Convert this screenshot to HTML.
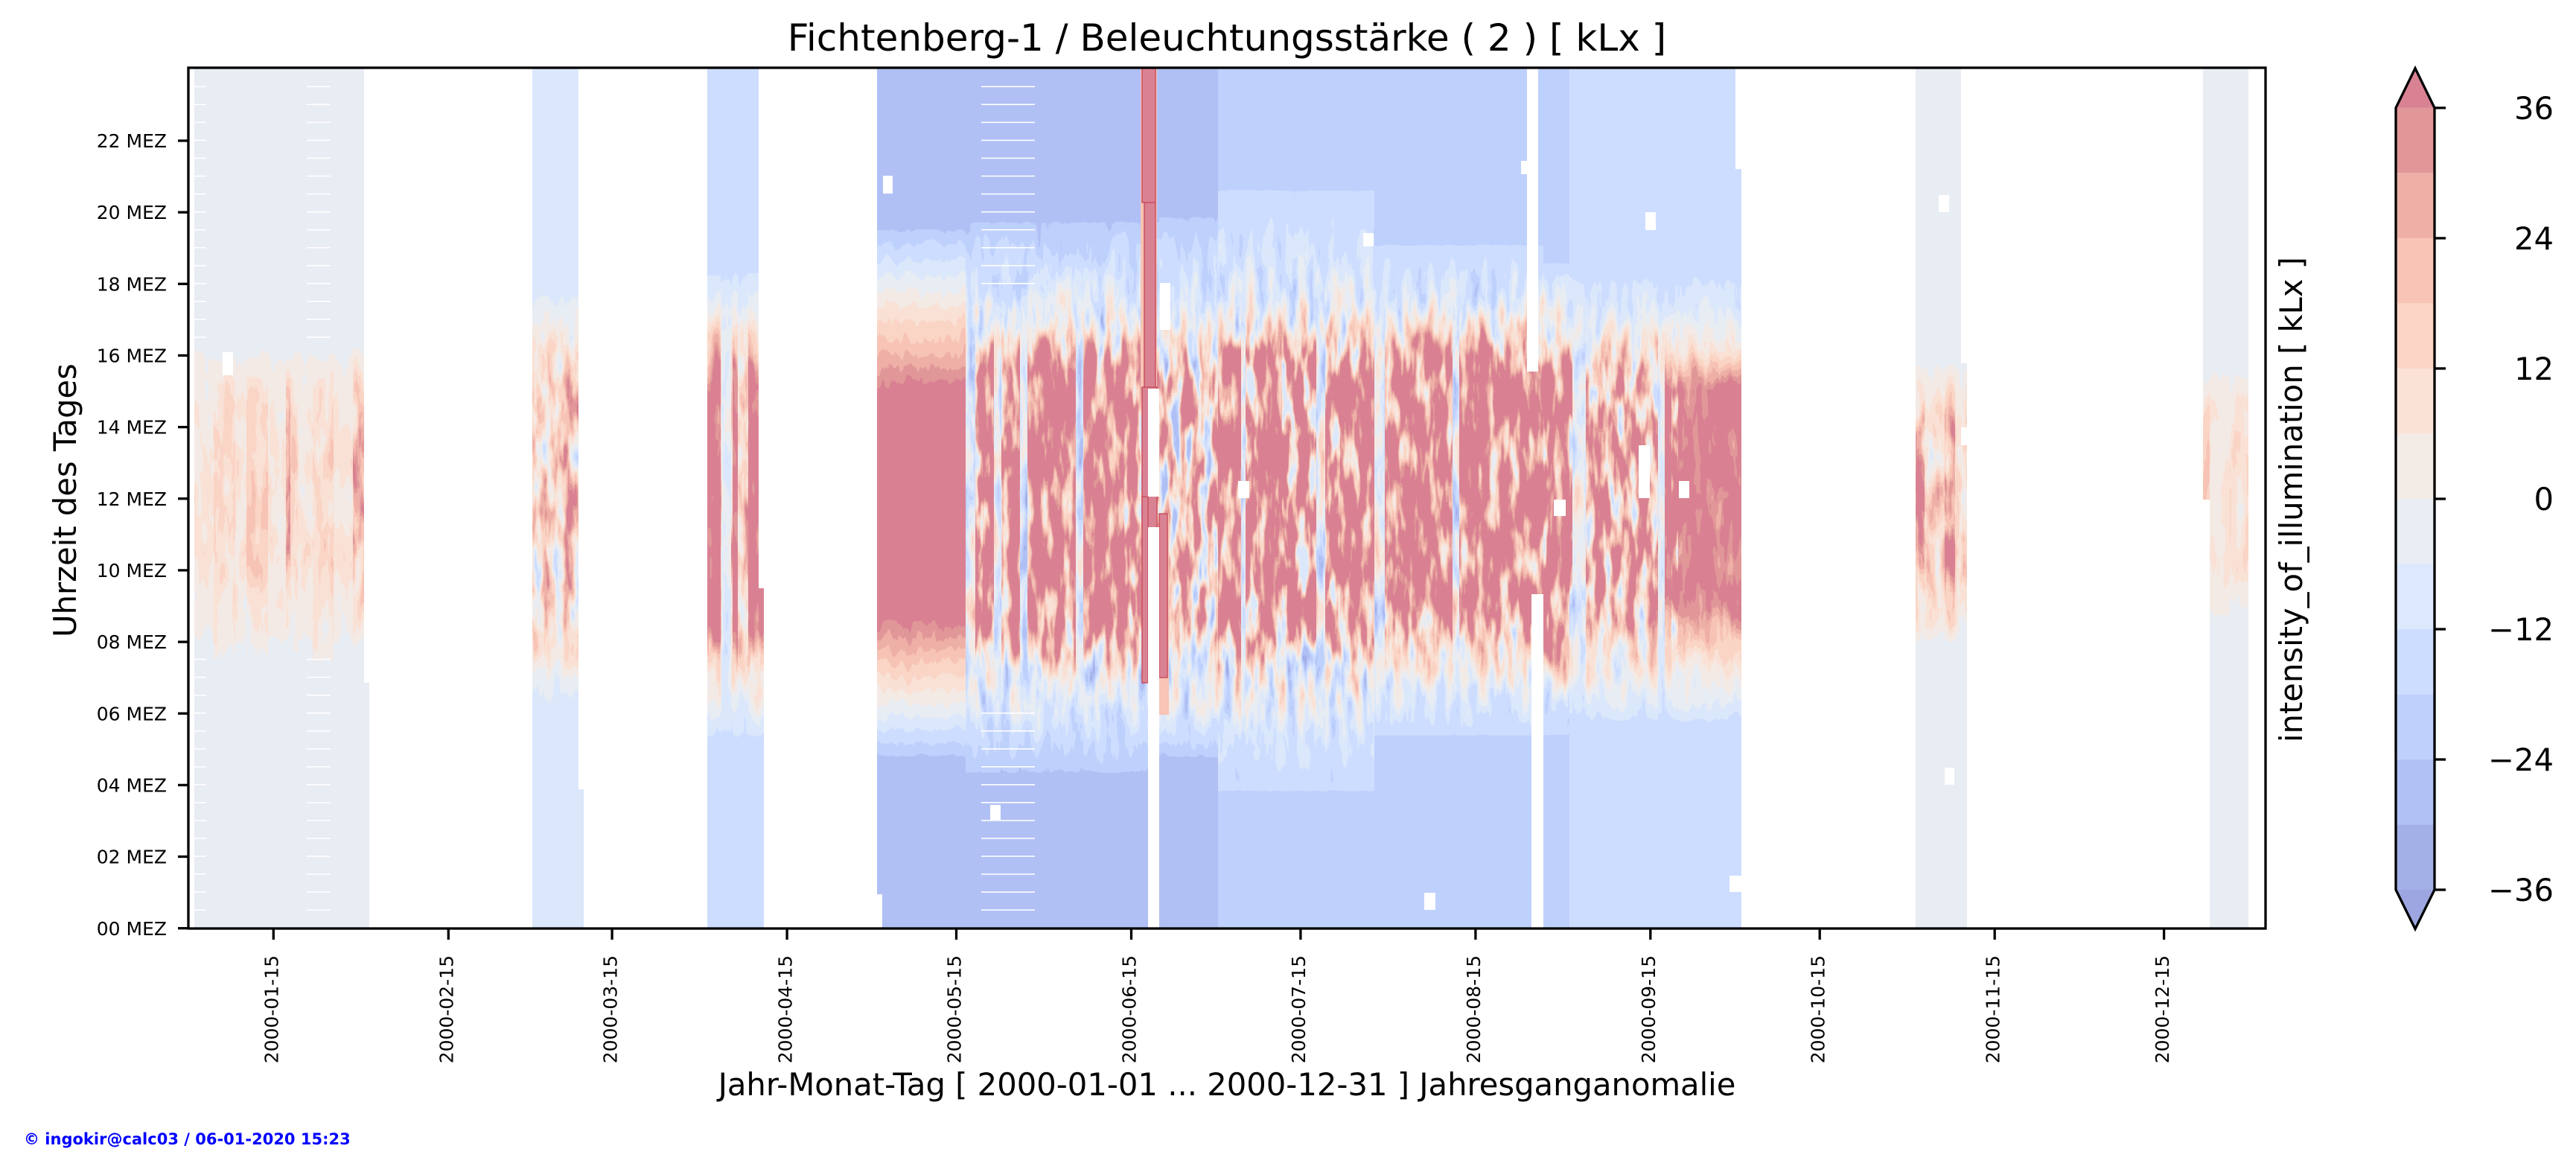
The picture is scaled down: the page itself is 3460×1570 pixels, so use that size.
<!DOCTYPE html>
<html><head><meta charset="utf-8"><style>
html,body{margin:0;padding:0;background:#fff}
svg{display:block}
text{font-family:"DejaVu Sans","Liberation Sans",sans-serif;fill:#000}
.b1{fill:#a3afe7}.b2{fill:#b1c1f5}.b3{fill:#bfd0fc}.b4{fill:#cdddff}.b5{fill:#dce8fc}.b6{fill:#e9edf4}.b7{fill:#f3ebe6}.b8{fill:#fae2d6}.b9{fill:#fbd4c5}.b10{fill:#f7c4b5}.b11{fill:#eeb0a6}.b12{fill:#e19798}.o{fill:#d98293;stroke:#c9505f;stroke-width:1.5}.w{fill:#fff}
</style></head><body>
<svg width="3460" height="1570" viewBox="0 0 3460 1570" xmlns="http://www.w3.org/2000/svg">
<defs>
<clipPath id="ax"><rect x="253" y="91" width="2790" height="1156"/></clipPath>
<pattern id="dash" x="0" y="115.5" width="20" height="24.04" patternUnits="userSpaceOnUse"><rect x="0" y="0" width="20" height="1.6" fill="#fff"/></pattern>
<filter id="hm" filterUnits="userSpaceOnUse" x="253" y="91" width="2790" height="1156" color-interpolation-filters="sRGB">
<feTurbulence type="fractalNoise" baseFrequency="0.07 0.014" numOctaves="3" seed="3" result="t"/>
<feColorMatrix in="t" type="matrix" values="1 0 0 0 0  1 0 0 0 0  1 0 0 0 0  0 0 0 0 1" result="n"/>
<feColorMatrix in="SourceGraphic" type="matrix" values="0 1 0 0 0  0 1 0 0 0  0 1 0 0 0  0 0 0 1 0" result="amp"/>
<feColorMatrix in="SourceGraphic" type="matrix" values="1 0 0 0 0  1 0 0 0 0  1 0 0 0 0  0 0 0 1 0" result="env"/>
<feComposite in="amp" in2="n" operator="arithmetic" k1="2.4" k2="-1.2" k3="0" k4="0.5" result="dev"/>
<feComposite in="env" in2="dev" operator="arithmetic" k1="0" k2="1" k3="1" k4="-0.5" result="val"/>
<feComponentTransfer in="val">
<feFuncR type="discrete" tableValues="0.616 0.639 0.692 0.748 0.805 0.861 0.912 0.954 0.980 0.984 0.969 0.935 0.884 0.853"/>
<feFuncG type="discrete" tableValues="0.649 0.686 0.755 0.816 0.869 0.908 0.928 0.920 0.884 0.833 0.767 0.688 0.593 0.508"/>
<feFuncB type="discrete" tableValues="0.876 0.907 0.959 0.990 1.0 0.988 0.956 0.902 0.839 0.773 0.710 0.651 0.598 0.575"/>
</feComponentTransfer>
</filter>
<linearGradient id="gJan" gradientUnits="userSpaceOnUse" x1="0" y1="0" x2="0" y2="2000"><stop offset=".225" stop-color="rgb(118,0,0)"/><stop offset=".25" stop-color="rgb(133,13,0)"/><stop offset=".3" stop-color="rgb(146,31,0)"/><stop offset=".37" stop-color="rgb(146,31,0)"/><stop offset=".42" stop-color="rgb(133,13,0)"/><stop offset=".44" stop-color="rgb(118,0,0)"/></linearGradient>
<linearGradient id="gJanCol" gradientUnits="userSpaceOnUse" x1="0" y1="0" x2="0" y2="2000"><stop offset=".23" stop-color="rgb(118,0,0)"/><stop offset=".26" stop-color="rgb(146,26,0)"/><stop offset=".3" stop-color="rgb(164,38,0)"/><stop offset=".38" stop-color="rgb(164,38,0)"/><stop offset=".43" stop-color="rgb(137,26,0)"/><stop offset=".45" stop-color="rgb(118,0,0)"/></linearGradient>
<linearGradient id="gJanCol2" gradientUnits="userSpaceOnUse" x1="0" y1="0" x2="0" y2="2000"><stop offset=".23" stop-color="rgb(118,0,0)"/><stop offset=".26" stop-color="rgb(150,26,0)"/><stop offset=".3" stop-color="rgb(177,38,0)"/><stop offset=".38" stop-color="rgb(177,38,0)"/><stop offset=".43" stop-color="rgb(137,26,0)"/><stop offset=".45" stop-color="rgb(118,0,0)"/></linearGradient>
<linearGradient id="gJanRed" gradientUnits="userSpaceOnUse" x1="0" y1="0" x2="0" y2="2000"><stop offset=".23" stop-color="rgb(118,0,0)"/><stop offset=".26" stop-color="rgb(164,51,0)"/><stop offset=".28" stop-color="rgb(200,89,0)"/><stop offset=".37" stop-color="rgb(200,89,0)"/><stop offset=".41" stop-color="rgb(146,51,0)"/><stop offset=".44" stop-color="rgb(118,0,0)"/></linearGradient>
<linearGradient id="gMar" gradientUnits="userSpaceOnUse" x1="0" y1="0" x2="0" y2="2000"><stop offset=".1925" stop-color="rgb(100,0,0)"/><stop offset=".215" stop-color="rgb(124,26,0)"/><stop offset=".245" stop-color="rgb(155,77,0)"/><stop offset=".26" stop-color="rgb(173,128,0)"/><stop offset=".41" stop-color="rgb(173,128,0)"/><stop offset=".44" stop-color="rgb(137,51,0)"/><stop offset=".46" stop-color="rgb(113,13,0)"/><stop offset=".48" stop-color="rgb(100,0,0)"/></linearGradient>
<linearGradient id="gApr" gradientUnits="userSpaceOnUse" x1="0" y1="0" x2="0" y2="2000"><stop offset=".1775" stop-color="rgb(82,0,0)"/><stop offset=".2" stop-color="rgb(106,26,0)"/><stop offset=".235" stop-color="rgb(146,64,0)"/><stop offset=".26" stop-color="rgb(169,102,0)"/><stop offset=".415" stop-color="rgb(169,102,0)"/><stop offset=".45" stop-color="rgb(142,51,0)"/><stop offset=".48" stop-color="rgb(106,26,0)"/><stop offset=".5" stop-color="rgb(82,0,0)"/></linearGradient>
<linearGradient id="gAprRed" gradientUnits="userSpaceOnUse" x1="0" y1="0" x2="0" y2="2000"><stop offset=".1775" stop-color="rgb(82,0,0)"/><stop offset=".21" stop-color="rgb(128,26,0)"/><stop offset=".245" stop-color="rgb(219,77,0)"/><stop offset=".26" stop-color="rgb(255,64,0)"/><stop offset=".42" stop-color="rgb(255,64,0)"/><stop offset=".44" stop-color="rgb(182,77,0)"/><stop offset=".48" stop-color="rgb(109,26,0)"/><stop offset=".5" stop-color="rgb(82,0,0)"/></linearGradient>
<linearGradient id="gAprLight" gradientUnits="userSpaceOnUse" x1="0" y1="0" x2="0" y2="2000"><stop offset=".1775" stop-color="rgb(82,0,0)"/><stop offset=".21" stop-color="rgb(109,13,0)"/><stop offset=".26" stop-color="rgb(115,38,0)"/><stop offset=".44" stop-color="rgb(115,38,0)"/><stop offset=".48" stop-color="rgb(100,0,0)"/><stop offset=".5" stop-color="rgb(82,0,0)"/></linearGradient>
<linearGradient id="gMayL" gradientUnits="userSpaceOnUse" x1="0" y1="0" x2="0" y2="2000"><stop offset=".1525" stop-color="rgb(46,0,0)"/><stop offset=".155" stop-color="rgb(56,8,0)"/><stop offset=".2595" stop-color="rgb(240,20,0)"/><stop offset=".2625" stop-color="rgb(255,20,0)"/><stop offset=".415" stop-color="rgb(255,20,0)"/><stop offset=".418" stop-color="rgb(240,20,0)"/><stop offset=".507" stop-color="rgb(56,8,0)"/><stop offset=".5095" stop-color="rgb(46,0,0)"/></linearGradient>
<linearGradient id="gMayM" gradientUnits="userSpaceOnUse" x1="0" y1="0" x2="0" y2="2000"><stop offset=".1475" stop-color="rgb(46,0,0)"/><stop offset=".15" stop-color="rgb(56,8,0)"/><stop offset=".19" stop-color="rgb(95,51,0)"/><stop offset=".22" stop-color="rgb(124,128,0)"/><stop offset=".24" stop-color="rgb(191,204,0)"/><stop offset=".25" stop-color="rgb(222,255,0)"/><stop offset=".415" stop-color="rgb(222,255,0)"/><stop offset=".43" stop-color="rgb(191,204,0)"/><stop offset=".45" stop-color="rgb(128,128,0)"/><stop offset=".48" stop-color="rgb(95,51,0)"/><stop offset=".5175" stop-color="rgb(56,8,0)"/><stop offset=".521" stop-color="rgb(46,0,0)"/></linearGradient>
<linearGradient id="gMayRed" gradientUnits="userSpaceOnUse" x1="0" y1="0" x2="0" y2="2000"><stop offset=".1475" stop-color="rgb(46,0,0)"/><stop offset=".15" stop-color="rgb(56,8,0)"/><stop offset=".19" stop-color="rgb(95,51,0)"/><stop offset=".22" stop-color="rgb(124,128,0)"/><stop offset=".24" stop-color="rgb(219,179,0)"/><stop offset=".25" stop-color="rgb(246,179,0)"/><stop offset=".415" stop-color="rgb(246,179,0)"/><stop offset=".43" stop-color="rgb(200,179,0)"/><stop offset=".45" stop-color="rgb(128,128,0)"/><stop offset=".48" stop-color="rgb(95,51,0)"/><stop offset=".5175" stop-color="rgb(56,8,0)"/><stop offset=".521" stop-color="rgb(46,0,0)"/></linearGradient>
<linearGradient id="gMayLight" gradientUnits="userSpaceOnUse" x1="0" y1="0" x2="0" y2="2000"><stop offset=".1475" stop-color="rgb(46,0,0)"/><stop offset=".15" stop-color="rgb(56,8,0)"/><stop offset=".19" stop-color="rgb(91,38,0)"/><stop offset=".225" stop-color="rgb(106,102,0)"/><stop offset=".44" stop-color="rgb(106,102,0)"/><stop offset=".48" stop-color="rgb(91,38,0)"/><stop offset=".5175" stop-color="rgb(56,8,0)"/><stop offset=".521" stop-color="rgb(46,0,0)"/></linearGradient>
<linearGradient id="gMayR" gradientUnits="userSpaceOnUse" x1="0" y1="0" x2="0" y2="2000"><stop offset=".144" stop-color="rgb(46,0,0)"/><stop offset=".147" stop-color="rgb(56,8,0)"/><stop offset=".2" stop-color="rgb(100,51,0)"/><stop offset=".23" stop-color="rgb(124,128,0)"/><stop offset=".25" stop-color="rgb(164,204,0)"/><stop offset=".26" stop-color="rgb(173,230,0)"/><stop offset=".415" stop-color="rgb(173,230,0)"/><stop offset=".44" stop-color="rgb(137,153,0)"/><stop offset=".47" stop-color="rgb(109,77,0)"/><stop offset=".495" stop-color="rgb(82,26,0)"/><stop offset=".5075" stop-color="rgb(56,8,0)"/><stop offset=".51" stop-color="rgb(46,0,0)"/></linearGradient>
<linearGradient id="gJul" gradientUnits="userSpaceOnUse" x1="0" y1="0" x2="0" y2="2000"><stop offset=".126" stop-color="rgb(64,0,0)"/><stop offset=".129" stop-color="rgb(77,5,0)"/><stop offset=".165" stop-color="rgb(87,26,0)"/><stop offset=".2" stop-color="rgb(106,77,0)"/><stop offset=".225" stop-color="rgb(146,153,0)"/><stop offset=".24" stop-color="rgb(209,255,0)"/><stop offset=".25" stop-color="rgb(222,255,0)"/><stop offset=".415" stop-color="rgb(222,255,0)"/><stop offset=".43" stop-color="rgb(191,230,0)"/><stop offset=".45" stop-color="rgb(137,153,0)"/><stop offset=".475" stop-color="rgb(109,77,0)"/><stop offset=".5" stop-color="rgb(91,26,0)"/><stop offset=".53" stop-color="rgb(77,5,0)"/><stop offset=".533" stop-color="rgb(64,0,0)"/></linearGradient>
<linearGradient id="gJulRed" gradientUnits="userSpaceOnUse" x1="0" y1="0" x2="0" y2="2000"><stop offset=".126" stop-color="rgb(64,0,0)"/><stop offset=".129" stop-color="rgb(77,5,0)"/><stop offset=".165" stop-color="rgb(87,26,0)"/><stop offset=".2" stop-color="rgb(106,77,0)"/><stop offset=".225" stop-color="rgb(164,153,0)"/><stop offset=".24" stop-color="rgb(228,204,0)"/><stop offset=".25" stop-color="rgb(246,179,0)"/><stop offset=".415" stop-color="rgb(246,179,0)"/><stop offset=".43" stop-color="rgb(200,204,0)"/><stop offset=".45" stop-color="rgb(137,153,0)"/><stop offset=".475" stop-color="rgb(109,77,0)"/><stop offset=".5" stop-color="rgb(91,26,0)"/><stop offset=".53" stop-color="rgb(77,5,0)"/><stop offset=".533" stop-color="rgb(64,0,0)"/></linearGradient>
<linearGradient id="gJul2" gradientUnits="userSpaceOnUse" x1="0" y1="0" x2="0" y2="2000"><stop offset=".138" stop-color="rgb(64,0,0)"/><stop offset=".141" stop-color="rgb(77,5,0)"/><stop offset=".1725" stop-color="rgb(87,26,0)"/><stop offset=".205" stop-color="rgb(106,77,0)"/><stop offset=".23" stop-color="rgb(146,153,0)"/><stop offset=".245" stop-color="rgb(209,255,0)"/><stop offset=".2525" stop-color="rgb(222,255,0)"/><stop offset=".415" stop-color="rgb(222,255,0)"/><stop offset=".43" stop-color="rgb(191,230,0)"/><stop offset=".45" stop-color="rgb(137,153,0)"/><stop offset=".475" stop-color="rgb(109,77,0)"/><stop offset=".5" stop-color="rgb(91,26,0)"/><stop offset=".5175" stop-color="rgb(77,5,0)"/><stop offset=".52" stop-color="rgb(64,0,0)"/></linearGradient>
<linearGradient id="gLight" gradientUnits="userSpaceOnUse" x1="0" y1="0" x2="0" y2="2000"><stop offset=".126" stop-color="rgb(64,0,0)"/><stop offset=".129" stop-color="rgb(77,5,0)"/><stop offset=".165" stop-color="rgb(87,26,0)"/><stop offset=".22" stop-color="rgb(106,102,0)"/><stop offset=".43" stop-color="rgb(106,102,0)"/><stop offset=".475" stop-color="rgb(95,51,0)"/><stop offset=".5025" stop-color="rgb(84,13,0)"/><stop offset=".53" stop-color="rgb(77,5,0)"/><stop offset=".533" stop-color="rgb(64,0,0)"/></linearGradient>
<linearGradient id="gAug" gradientUnits="userSpaceOnUse" x1="0" y1="0" x2="0" y2="2000"><stop offset=".1625" stop-color="rgb(64,0,0)"/><stop offset=".166" stop-color="rgb(77,5,0)"/><stop offset=".195" stop-color="rgb(95,51,0)"/><stop offset=".2225" stop-color="rgb(137,128,0)"/><stop offset=".24" stop-color="rgb(200,230,0)"/><stop offset=".25" stop-color="rgb(222,255,0)"/><stop offset=".4" stop-color="rgb(222,255,0)"/><stop offset=".42" stop-color="rgb(182,204,0)"/><stop offset=".44" stop-color="rgb(137,128,0)"/><stop offset=".465" stop-color="rgb(106,64,0)"/><stop offset=".4925" stop-color="rgb(78,5,0)"/><stop offset=".4955" stop-color="rgb(64,0,0)"/></linearGradient>
<linearGradient id="gAugRed" gradientUnits="userSpaceOnUse" x1="0" y1="0" x2="0" y2="2000"><stop offset=".1625" stop-color="rgb(64,0,0)"/><stop offset=".166" stop-color="rgb(77,5,0)"/><stop offset=".195" stop-color="rgb(95,51,0)"/><stop offset=".2225" stop-color="rgb(155,128,0)"/><stop offset=".245" stop-color="rgb(228,204,0)"/><stop offset=".255" stop-color="rgb(246,179,0)"/><stop offset=".4" stop-color="rgb(246,179,0)"/><stop offset=".42" stop-color="rgb(200,204,0)"/><stop offset=".44" stop-color="rgb(137,128,0)"/><stop offset=".465" stop-color="rgb(106,64,0)"/><stop offset=".4925" stop-color="rgb(78,5,0)"/><stop offset=".4955" stop-color="rgb(64,0,0)"/></linearGradient>
<linearGradient id="gAugLight" gradientUnits="userSpaceOnUse" x1="0" y1="0" x2="0" y2="2000"><stop offset=".1625" stop-color="rgb(64,0,0)"/><stop offset=".166" stop-color="rgb(77,5,0)"/><stop offset=".195" stop-color="rgb(95,38,0)"/><stop offset=".225" stop-color="rgb(106,102,0)"/><stop offset=".425" stop-color="rgb(106,102,0)"/><stop offset=".465" stop-color="rgb(97,51,0)"/><stop offset=".4925" stop-color="rgb(78,5,0)"/><stop offset=".4955" stop-color="rgb(64,0,0)"/></linearGradient>
<linearGradient id="gSep1" gradientUnits="userSpaceOnUse" x1="0" y1="0" x2="0" y2="2000"><stop offset=".175" stop-color="rgb(64,0,0)"/><stop offset=".178" stop-color="rgb(77,5,0)"/><stop offset=".2" stop-color="rgb(100,51,0)"/><stop offset=".225" stop-color="rgb(137,128,0)"/><stop offset=".245" stop-color="rgb(200,230,0)"/><stop offset=".255" stop-color="rgb(222,255,0)"/><stop offset=".4" stop-color="rgb(222,255,0)"/><stop offset=".425" stop-color="rgb(173,179,0)"/><stop offset=".45" stop-color="rgb(128,102,0)"/><stop offset=".47" stop-color="rgb(106,51,0)"/><stop offset=".4925" stop-color="rgb(77,5,0)"/><stop offset=".4955" stop-color="rgb(64,0,0)"/></linearGradient>
<linearGradient id="gSep1Red" gradientUnits="userSpaceOnUse" x1="0" y1="0" x2="0" y2="2000"><stop offset=".175" stop-color="rgb(64,0,0)"/><stop offset=".178" stop-color="rgb(77,5,0)"/><stop offset=".2" stop-color="rgb(100,51,0)"/><stop offset=".225" stop-color="rgb(155,128,0)"/><stop offset=".25" stop-color="rgb(246,153,0)"/><stop offset=".425" stop-color="rgb(246,153,0)"/><stop offset=".45" stop-color="rgb(146,128,0)"/><stop offset=".47" stop-color="rgb(106,51,0)"/><stop offset=".4925" stop-color="rgb(77,5,0)"/><stop offset=".4955" stop-color="rgb(64,0,0)"/></linearGradient>
<linearGradient id="gSep" gradientUnits="userSpaceOnUse" x1="0" y1="0" x2="0" y2="2000"><stop offset=".18" stop-color="rgb(82,0,0)"/><stop offset=".2055" stop-color="rgb(100,38,0)"/><stop offset=".235" stop-color="rgb(146,102,0)"/><stop offset=".263" stop-color="rgb(209,204,0)"/><stop offset=".4" stop-color="rgb(209,204,0)"/><stop offset=".425" stop-color="rgb(164,128,0)"/><stop offset=".445" stop-color="rgb(137,77,0)"/><stop offset=".4715" stop-color="rgb(109,26,0)"/><stop offset=".4825" stop-color="rgb(91,8,0)"/><stop offset=".4875" stop-color="rgb(82,0,0)"/></linearGradient>
<linearGradient id="gSepRed" gradientUnits="userSpaceOnUse" x1="0" y1="0" x2="0" y2="2000"><stop offset=".18" stop-color="rgb(82,0,0)"/><stop offset=".2055" stop-color="rgb(100,26,0)"/><stop offset=".235" stop-color="rgb(155,38,0)"/><stop offset=".263" stop-color="rgb(246,51,0)"/><stop offset=".395" stop-color="rgb(246,51,0)"/><stop offset=".425" stop-color="rgb(191,51,0)"/><stop offset=".45" stop-color="rgb(146,38,0)"/><stop offset=".4715" stop-color="rgb(109,26,0)"/><stop offset=".4825" stop-color="rgb(91,8,0)"/><stop offset=".4875" stop-color="rgb(82,0,0)"/></linearGradient>
<linearGradient id="gSepLight" gradientUnits="userSpaceOnUse" x1="0" y1="0" x2="0" y2="2000"><stop offset=".18" stop-color="rgb(82,0,0)"/><stop offset=".2055" stop-color="rgb(100,26,0)"/><stop offset=".235" stop-color="rgb(109,77,0)"/><stop offset=".425" stop-color="rgb(109,77,0)"/><stop offset=".4715" stop-color="rgb(100,26,0)"/><stop offset=".4875" stop-color="rgb(82,0,0)"/></linearGradient>
<linearGradient id="gNov" gradientUnits="userSpaceOnUse" x1="0" y1="0" x2="0" y2="2000"><stop offset=".24" stop-color="rgb(118,0,0)"/><stop offset=".25" stop-color="rgb(131,13,0)"/><stop offset=".28" stop-color="rgb(151,51,0)"/><stop offset=".3" stop-color="rgb(168,77,0)"/><stop offset=".38" stop-color="rgb(168,77,0)"/><stop offset=".415" stop-color="rgb(142,38,0)"/><stop offset=".435" stop-color="rgb(118,0,0)"/></linearGradient>
<linearGradient id="gNovRed" gradientUnits="userSpaceOnUse" x1="0" y1="0" x2="0" y2="2000"><stop offset=".24" stop-color="rgb(118,0,0)"/><stop offset=".27" stop-color="rgb(155,51,0)"/><stop offset=".29" stop-color="rgb(209,102,0)"/><stop offset=".38" stop-color="rgb(209,102,0)"/><stop offset=".42" stop-color="rgb(146,38,0)"/><stop offset=".435" stop-color="rgb(118,0,0)"/></linearGradient>
<linearGradient id="gDec" gradientUnits="userSpaceOnUse" x1="0" y1="0" x2="0" y2="2000"><stop offset=".245" stop-color="rgb(118,0,0)"/><stop offset=".255" stop-color="rgb(131,13,0)"/><stop offset=".28" stop-color="rgb(142,20,0)"/><stop offset=".39" stop-color="rgb(142,20,0)"/><stop offset=".412" stop-color="rgb(129,8,0)"/><stop offset=".4175" stop-color="rgb(118,0,0)"/></linearGradient>
<linearGradient id="gDecCol" gradientUnits="userSpaceOnUse" x1="0" y1="0" x2="0" y2="2000"><stop offset=".245" stop-color="rgb(118,0,0)"/><stop offset=".28" stop-color="rgb(155,38,0)"/><stop offset=".31" stop-color="rgb(182,20,0)"/><stop offset=".3355" stop-color="rgb(182,20,0)"/><stop offset=".39" stop-color="rgb(146,20,0)"/><stop offset=".4175" stop-color="rgb(118,0,0)"/></linearGradient>
<linearGradient id="gDecR" gradientUnits="userSpaceOnUse" x1="0" y1="0" x2="0" y2="2000"><stop offset=".245" stop-color="rgb(118,0,0)"/><stop offset=".27" stop-color="rgb(137,26,0)"/><stop offset=".3" stop-color="rgb(155,38,0)"/><stop offset=".37" stop-color="rgb(155,38,0)"/><stop offset=".4" stop-color="rgb(133,20,0)"/><stop offset=".4175" stop-color="rgb(118,0,0)"/></linearGradient>
</defs>
<rect width="3460" height="1570" fill="#fff"/>
<g clip-path="url(#ax)">
<g filter="url(#hm)" shape-rendering="crispEdges">
<!-- Jan -->
<rect x="261" y="91" width="228" height="826" fill="url(#gJan)"/>
<rect x="261" y="917" width="235" height="330" fill="url(#gJan)"/>
<rect x="287" y="91" width="29" height="826" fill="url(#gJanCol)"/>
<rect x="331" y="91" width="29" height="826" fill="url(#gJanCol2)"/>
<rect x="384" y="91" width="16" height="826" fill="url(#gJanCol)"/>
<rect x="384" y="91" width="6" height="826" fill="url(#gJanRed)"/>
<rect x="420" y="91" width="28" height="826" fill="url(#gJanCol)"/>
<rect x="474" y="91" width="15" height="826" fill="url(#gJanRed)"/>
<!-- Mar -->
<rect x="715" y="91" width="62" height="969" fill="url(#gMar)"/>
<rect x="715" y="1060" width="69" height="187" fill="url(#gMar)"/>
<!-- Apr -->
<rect x="950" y="91" width="69" height="699" fill="url(#gApr)"/>
<rect x="950" y="790" width="76" height="457" fill="url(#gApr)"/>
<rect x="950" y="91" width="18" height="1156" fill="url(#gAprRed)"/>
<rect x="969" y="91" width="13" height="1156" fill="url(#gAprLight)"/>
<rect x="984" y="91" width="7" height="1156" fill="url(#gAprRed)"/>
<rect x="1005" y="91" width="14" height="699" fill="url(#gAprRed)"/>
<rect x="1005" y="790" width="21" height="457" fill="url(#gAprRed)"/>
<!-- May-Jun -->
<rect x="1178" y="91" width="125" height="1110" fill="url(#gMayL)"/>
<rect x="1185" y="1201" width="118" height="46" fill="url(#gMayL)"/>
<rect x="1303" y="91" width="254" height="1156" fill="url(#gMayM)"/>
<rect x="1557" y="91" width="79" height="1156" fill="url(#gMayR)"/>
<rect x="1320" y="91" width="12" height="1156" fill="url(#gMayRed)"/>
<rect x="1346" y="91" width="24" height="1156" fill="url(#gMayRed)"/>
<rect x="1380" y="91" width="65" height="1156" fill="url(#gMayRed)"/>
<rect x="1455" y="91" width="55" height="1156" fill="url(#gMayRed)"/>
<rect x="1297" y="91" width="13" height="1156" fill="url(#gMayLight)"/>
<rect x="1335" y="91" width="10" height="1156" fill="url(#gMayLight)"/>
<rect x="1370" y="91" width="10" height="1156" fill="url(#gMayLight)"/>
<rect x="1445" y="91" width="10" height="1156" fill="url(#gMayLight)"/>
<!-- Jul-Aug -->
<rect x="1636" y="91" width="178" height="1156" fill="url(#gJul)"/>
<rect x="1814" y="91" width="64" height="1156" fill="url(#gJul2)"/>
<rect x="1878" y="91" width="195" height="1156" fill="url(#gAug)"/>
<rect x="1636" y="91" width="31" height="1156" fill="url(#gJulRed)"/>
<rect x="1690" y="91" width="32" height="1156" fill="url(#gJulRed)"/>
<rect x="1800" y="91" width="46" height="1156" fill="url(#gJulRed)"/>
<rect x="1860" y="91" width="91" height="1156" fill="url(#gAugRed)"/>
<rect x="1960" y="91" width="65" height="1156" fill="url(#gAugRed)"/>
<rect x="2025" y="91" width="48" height="1156" fill="url(#gAugRed)"/>
<rect x="1667" y="91" width="6" height="1156" fill="url(#gLight)"/>
<rect x="1768" y="91" width="12" height="1156" fill="url(#gLight)"/>
<rect x="1846" y="91" width="14" height="1156" fill="url(#gAugLight)"/>
<rect x="1951" y="91" width="9" height="1156" fill="url(#gAugLight)"/>
<!-- Sep -->
<rect x="2073" y="91" width="35" height="1156" fill="url(#gSep1)"/>
<rect x="2080" y="91" width="28" height="1156" fill="url(#gSep1Red)"/>
<rect x="2108" y="91" width="231" height="1156" fill="url(#gSep)"/>
<rect x="2112" y="91" width="18" height="1156" fill="url(#gSepLight)"/>
<rect x="2227" y="91" width="9" height="1156" fill="url(#gSepLight)"/>
<rect x="2236" y="91" width="9" height="1156" fill="url(#gSepRed)"/>
<rect x="2254" y="91" width="85" height="1156" fill="url(#gSepRed)"/>
<!-- Nov -->
<rect x="2573" y="91" width="61" height="397" fill="url(#gNov)"/>
<rect x="2573" y="488" width="69" height="759" fill="url(#gNov)"/>
<rect x="2573" y="91" width="12" height="1156" fill="url(#gNovRed)"/>
<rect x="2612" y="91" width="14" height="1156" fill="url(#gNovRed)"/>
<!-- Dec -->
<rect x="2959" y="91" width="61" height="580" fill="url(#gDec)"/>
<rect x="2968" y="671" width="52" height="576" fill="url(#gDec)"/>
<rect x="2959" y="91" width="9" height="580" fill="url(#gDecCol)"/>
<rect x="2995" y="91" width="25" height="1156" fill="url(#gDecR)"/>
</g>
<rect fill="url(#dash)" x="261" y="110" width="16" height="360"/>
<rect fill="url(#dash)" x="261" y="880" width="16" height="360"/>
<rect fill="url(#dash)" x="412" y="110" width="32" height="360"/>
<rect fill="url(#dash)" x="412" y="880" width="32" height="360"/>
<rect fill="url(#dash)" x="1318" y="110" width="72" height="290"/>
<rect fill="url(#dash)" x="1318" y="940" width="72" height="300"/>
<!-- spike -->
<rect class="b10" x="1532" y="91" width="22" height="430"/>
<rect class="o" x="1534" y="91" width="18" height="181"/>
<rect class="o" x="1537" y="272" width="15" height="250"/>
<rect class="o" x="1534" y="520" width="20" height="190"/>
<rect class="o" x="1534" y="667" width="8" height="250"/>
<rect class="b10" x="1557" y="690" width="13" height="270"/>
<rect class="o" x="1557" y="690" width="11" height="220"/>
<rect class="w" x="1542" y="522" width="15" height="145"/>
<rect class="w" x="1542" y="708" width="15" height="539"/>
<rect class="w" x="1558" y="380" width="14" height="63"/>
<!-- gaps -->
<rect class="w" x="2051" y="91" width="15" height="408"/>
<rect class="w" x="2057" y="798" width="16" height="449"/>
<rect class="w" x="2331" y="91" width="8" height="136"/>
<rect class="w" x="1178" y="1201" width="7" height="46"/>
<rect class="w" x="299" y="473" width="14" height="31"/>
<rect class="w" x="1186" y="236" width="13" height="24"/>
<rect class="w" x="1831" y="313" width="14" height="18"/>
<rect class="w" x="1663" y="646" width="15" height="23"/>
<rect class="w" x="1330" y="1081" width="14" height="20"/>
<rect class="w" x="1913" y="1199" width="15" height="23"/>
<rect class="w" x="2087" y="671" width="16" height="22"/>
<rect class="w" x="2043" y="216" width="8" height="18"/>
<rect class="w" x="2210" y="285" width="14" height="24"/>
<rect class="w" x="2201" y="598" width="15" height="71"/>
<rect class="w" x="2255" y="646" width="14" height="23"/>
<rect class="w" x="2323" y="1176" width="16" height="22"/>
<rect class="w" x="2604" y="262" width="14" height="23"/>
<rect class="w" x="2612" y="1031" width="13" height="23"/>
<rect class="w" x="2634" y="574" width="8" height="24"/>
</g>
<!-- axes frame -->
<rect x="253" y="91" width="2790" height="1156" fill="none" stroke="#000" stroke-width="3.3"/>
<g stroke="#000" stroke-width="3.3">
<line x1="239" x2="253" y1="1246.7" y2="1246.7"/><line x1="239" x2="253" y1="1150.5" y2="1150.5"/><line x1="239" x2="253" y1="1054.4" y2="1054.4"/><line x1="239" x2="253" y1="958.2" y2="958.2"/><line x1="239" x2="253" y1="862.1" y2="862.1"/><line x1="239" x2="253" y1="765.9" y2="765.9"/><line x1="239" x2="253" y1="669.7" y2="669.7"/><line x1="239" x2="253" y1="573.6" y2="573.6"/><line x1="239" x2="253" y1="477.4" y2="477.4"/><line x1="239" x2="253" y1="381.3" y2="381.3"/><line x1="239" x2="253" y1="285.1" y2="285.1"/><line x1="239" x2="253" y1="189" y2="189"/>
<line y1="1247" y2="1262" x1="367.3" x2="367.3"/><line y1="1247" y2="1262" x1="602.3" x2="602.3"/><line y1="1247" y2="1262" x1="822.1" x2="822.1"/><line y1="1247" y2="1262" x1="1057.1" x2="1057.1"/><line y1="1247" y2="1262" x1="1284.5" x2="1284.5"/><line y1="1247" y2="1262" x1="1519.5" x2="1519.5"/><line y1="1247" y2="1262" x1="1746.9" x2="1746.9"/><line y1="1247" y2="1262" x1="1981.9" x2="1981.9"/><line y1="1247" y2="1262" x1="2216.8" x2="2216.8"/><line y1="1247" y2="1262" x1="2444.2" x2="2444.2"/><line y1="1247" y2="1262" x1="2679.2" x2="2679.2"/><line y1="1247" y2="1262" x1="2906.6" x2="2906.6"/>
</g>
<g font-size="25" text-anchor="end">
<text x="224" y="1255.8">00 MEZ</text><text x="224" y="1159.6">02 MEZ</text><text x="224" y="1063.5">04 MEZ</text><text x="224" y="967.3">06 MEZ</text><text x="224" y="871.2">08 MEZ</text><text x="224" y="775">10 MEZ</text><text x="224" y="678.8">12 MEZ</text><text x="224" y="582.7">14 MEZ</text><text x="224" y="486.5">16 MEZ</text><text x="224" y="390.4">18 MEZ</text><text x="224" y="294.2">20 MEZ</text><text x="224" y="198.1">22 MEZ</text>
</g>
<g font-size="25" text-anchor="end">
<text transform="translate(373.5,1283) rotate(-90)">2000-01-15</text>
<text transform="translate(608.5,1283) rotate(-90)">2000-02-15</text>
<text transform="translate(828.3,1283) rotate(-90)">2000-03-15</text>
<text transform="translate(1063.3,1283) rotate(-90)">2000-04-15</text>
<text transform="translate(1290.7,1283) rotate(-90)">2000-05-15</text>
<text transform="translate(1525.7,1283) rotate(-90)">2000-06-15</text>
<text transform="translate(1753.1,1283) rotate(-90)">2000-07-15</text>
<text transform="translate(1988.1,1283) rotate(-90)">2000-08-15</text>
<text transform="translate(2223,1283) rotate(-90)">2000-09-15</text>
<text transform="translate(2450.4,1283) rotate(-90)">2000-10-15</text>
<text transform="translate(2685.4,1283) rotate(-90)">2000-11-15</text>
<text transform="translate(2912.8,1283) rotate(-90)">2000-12-15</text>
</g>
<text x="1648" y="68" font-size="50" text-anchor="middle">Fichtenberg-1 / Beleuchtungsstärke ( 2 ) [ kLx ]</text>
<text x="1648" y="1471" font-size="41.7" text-anchor="middle">Jahr-Monat-Tag [ 2000-01-01 ... 2000-12-31 ] Jahresganganomalie</text>
<text transform="translate(102,672) rotate(-90)" font-size="41.7" text-anchor="middle">Uhrzeit des Tages</text>
<text transform="translate(3092,671) rotate(-90)" font-size="41.7" text-anchor="middle">intensity_of_illumination [ kLx ]</text>
<text x="32" y="1537" font-size="21" font-weight="bold" style="fill:#0000ff">© ingokir@calc03 / 06-01-2020 15:23</text>
<!-- colorbar -->
<g>
<rect class="b12" x="3218" y="144.9" width="52" height="87.5"/>
<rect class="b11" x="3218" y="232.4" width="52" height="87.5"/>
<rect class="b10" x="3218" y="319.9" width="52" height="87.5"/>
<rect class="b9" x="3218" y="407.4" width="52" height="87.5"/>
<rect class="b8" x="3218" y="494.9" width="52" height="87.5"/>
<rect class="b7" x="3218" y="582.4" width="52" height="87.5"/>
<rect class="b6" x="3218" y="669.9" width="52" height="87.5"/>
<rect class="b5" x="3218" y="757.4" width="52" height="87.5"/>
<rect class="b4" x="3218" y="844.9" width="52" height="87.5"/>
<rect class="b3" x="3218" y="932.4" width="52" height="87.5"/>
<rect class="b2" x="3218" y="1019.9" width="52" height="87.5"/>
<rect class="b1" x="3218" y="1107.4" width="52" height="87.6"/>
<path d="M3218,144.9 L3244,91.6 L3270,144.9 Z" fill="#d98293"/>
<path d="M3218,1195 L3244,1247.6 L3270,1195 Z" fill="#9da6e0"/>
<path d="M3218,144.9 L3244,91.6 L3270,144.9 L3270,1195 L3244,1247.6 L3218,1195 Z" fill="none" stroke="#000" stroke-width="3.3" stroke-linejoin="miter"/>
</g>
<g stroke="#000" stroke-width="3.3">
<line x1="3270" x2="3285" y1="144.9" y2="144.9"/><line x1="3270" x2="3285" y1="319.9" y2="319.9"/><line x1="3270" x2="3285" y1="494.9" y2="494.9"/><line x1="3270" x2="3285" y1="670" y2="670"/><line x1="3270" x2="3285" y1="845" y2="845"/><line x1="3270" x2="3285" y1="1020" y2="1020"/><line x1="3270" x2="3285" y1="1195" y2="1195"/>
</g>
<g font-size="41.7" text-anchor="end">
<text x="3430" y="160">36</text><text x="3430" y="335">24</text><text x="3430" y="510">12</text><text x="3430" y="685">0</text><text x="3430" y="860">−12</text><text x="3430" y="1035">−24</text><text x="3430" y="1210">−36</text>
</g>
</svg>
</body></html>
